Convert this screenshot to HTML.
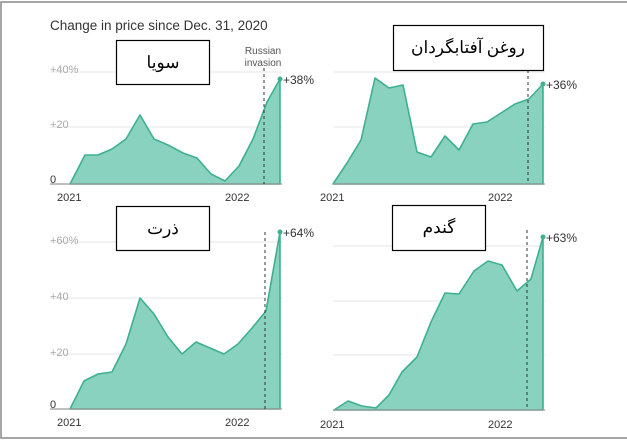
<!DOCTYPE html>
<html><head><meta charset="utf-8"><style>
html,body{margin:0;padding:0;background:#fff;}
svg{display:block;font-family:"Liberation Sans",sans-serif;}
.ar{font-family:"Liberation Serif","Noto Sans CJK SC",serif;font-size:17px;fill:#000;text-anchor:middle;}
.ax{font-size:11px;fill:#333;}
.yl{font-size:11px;fill:#aaa;}
.area{fill:#88d2bf;stroke:#3fb08f;stroke-width:1.6;stroke-linejoin:round;}
.grid{stroke:#e6e6e6;stroke-width:1;}
.base{stroke:#999;stroke-width:1.2;}
.dash{stroke:#333;stroke-width:1;stroke-dasharray:3,3;}
.box{fill:#fff;stroke:#000;stroke-width:1.2;}
.lab{font-size:12px;fill:#333;}
</style></head><body>
<svg width="627" height="442" viewBox="0 0 627 442">
<rect x="1" y="2" width="640" height="436" fill="none" stroke="#888" stroke-width="1.5"/>
<text x="50" y="30" font-size="13.5" fill="#333">Change in price since Dec. 31, 2020</text>

<!-- Panel 1 -->
<line class="grid" x1="50" y1="72" x2="282" y2="72"/>
<line class="grid" x1="50" y1="127" x2="282" y2="127"/>
<text class="yl" x="50" y="73">+40%</text>
<text class="yl" x="50" y="128">+20</text>
<text class="ax" x="50" y="183" fill="#333">0</text>
<polygon class="area" points="70,184 85,155 98,155 112,149 126,139 140,115 154,139 168,145 183,153 197,158 211,174 225,181 239,166 253,139 267,102 280,79 280,184"/>
<line class="base" x1="50" y1="184" x2="282" y2="184"/>
<line class="dash" x1="264" y1="68" x2="264" y2="184"/>
<text x="263" y="54" font-size="10" fill="#555" text-anchor="middle">Russian</text>
<text x="263" y="66" font-size="10" fill="#555" text-anchor="middle">invasion</text>
<circle cx="280" cy="79" r="2.5" fill="#3fb08f"/>
<text class="lab" x="283" y="84">+38%</text>
<text class="ax" x="57" y="201">2021</text>
<text class="ax" x="225" y="201">2022</text>
<rect class="box" x="116.5" y="40.5" width="93" height="44"/>
<text class="ar" x="163" y="68">سویا</text>

<!-- Panel 2 -->
<line class="grid" x1="333" y1="72" x2="545" y2="72"/>
<line class="grid" x1="333" y1="127" x2="545" y2="127"/>
<polygon class="area" points="333,184 347,163 361,140 375,78 389,88 403,85 417,152 431,157 445,136 459,150 473,124 487,122 501,113 515,104 529,99 543,84 543,184"/>
<line class="base" x1="333" y1="184" x2="545" y2="184"/>
<line class="dash" x1="528" y1="70" x2="528" y2="184"/>
<circle cx="543" cy="84" r="2.5" fill="#3fb08f"/>
<text class="lab" x="546" y="89">+36%</text>
<text class="ax" x="320" y="201">2021</text>
<text class="ax" x="488" y="201">2022</text>
<rect class="box" x="393.5" y="25.5" width="150" height="45"/>
<text class="ar" x="468" y="53">روغن آفتابگردان</text>

<!-- Panel 3 -->
<line class="grid" x1="50" y1="242" x2="282" y2="242"/>
<line class="grid" x1="50" y1="298" x2="282" y2="298"/>
<line class="grid" x1="50" y1="354" x2="282" y2="354"/>
<text class="yl" x="50" y="244">+60%</text>
<text class="yl" x="50" y="300">+40</text>
<text class="yl" x="50" y="356">+20</text>
<text class="ax" x="50" y="408">0</text>
<polygon class="area" points="70,409 84,381 98,374 112,372 126,344 140,298 154,314 168,337 182,354 196,342 210,348 224,354 238,344 252,328 266,311 280,232 280,409"/>
<line class="base" x1="50" y1="409" x2="282" y2="409"/>
<line class="dash" x1="265" y1="232" x2="265" y2="409"/>
<circle cx="280" cy="232" r="2.5" fill="#3fb08f"/>
<text class="lab" x="283" y="237">+64%</text>
<text class="ax" x="57" y="426">2021</text>
<text class="ax" x="225" y="426">2022</text>
<rect class="box" x="116.5" y="206.5" width="93" height="44"/>
<text class="ar" x="163" y="234">ذرت</text>

<!-- Panel 4 -->
<line class="grid" x1="333" y1="246" x2="545" y2="246"/>
<line class="grid" x1="333" y1="301" x2="545" y2="301"/>
<line class="grid" x1="333" y1="355" x2="545" y2="355"/>
<polygon class="area" points="334,410 348,401 362,406 376,408 389,395 402,372 417,357 431,322 445,293 459,294 474,271 488,261 502,265 517,291 531,279 543,237 543,410"/>
<line class="base" x1="333" y1="410" x2="545" y2="410"/>
<line class="dash" x1="527" y1="230" x2="527" y2="410"/>
<circle cx="543" cy="237" r="2.5" fill="#3fb08f"/>
<text class="lab" x="546" y="242">+63%</text>
<text class="ax" x="320" y="428">2021</text>
<text class="ax" x="488" y="428">2022</text>
<rect class="box" x="392.5" y="205.5" width="93" height="45"/>
<text class="ar" x="439" y="233">گندم</text>
</svg>
</body></html>
